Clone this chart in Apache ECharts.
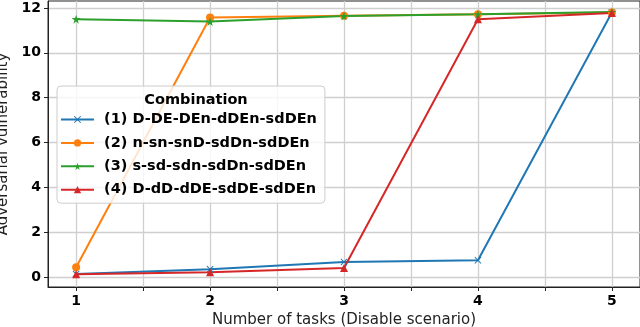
<!DOCTYPE html>
<html>
<head>
<meta charset="utf-8">
<script src="https://cdn.jsdelivr.net/npm/echarts@6/dist/echarts.min.js"></script>
<style>
  html, body { margin: 0; padding: 0; background: #fff; }
  #chart { width: 640px; height: 327px; }
</style>
</head>
<body>
<div id="chart"></div>
<script>
// number of tasks on the x axis
const tasks = [1, 2, 3, 4, 5];

// adversarial vulnerability per combination
const combo1 = [0.13, 0.34, 0.67, 0.74, 11.8];
const combo2 = [0.43, 11.57, 11.65, 11.72, 11.8];
const combo3 = [11.5, 11.39, 11.64, 11.72, 11.82];
const combo4 = [0.12, 0.21, 0.4, 11.5, 11.78];

const names = [
    '(1) D-DE-DEn-dDEn-sdDEn',
    '(2) n-sn-snD-sdDn-sdDEn',
    '(3) s-sd-sdn-sdDn-sdDEn',
    '(4) D-dD-dDE-sdDE-sdDEn',
];
const colors = ['#1f77b4', '#ff7f0e', '#2ca02c', '#d62728'];

// tick positions
const xLabels = [1, 2, 3, 4, 5];
const xTicks = [1, 1.5, 2, 2.5, 3, 3.5, 4, 4.5, 5];
const yTicks = [0, 2, 4, 6, 8, 10, 12];

// matplotlib-ish marker shapes
const crossPath = 'path://M0,1L1,0L5,4L9,0L10,1L6,5L10,9L9,10L5,6L1,10L0,9L4,5Z';
const starPath = 'path://M50,0L61,35L98,35L68,57L79,91L50,70L21,91L32,57L2,35L39,35Z';
const symbols = [crossPath, 'circle', starPath, 'triangle'];
const symbolSizes = [7, 8, 9, 8];

const FONT = 'DejaVu Sans';

const chart = echarts.init(document.getElementById('chart'));

function pairs(ys) {
    return tasks.map((t, i) => [t, ys[i]]);
}

const allData = [combo1, combo2, combo3, combo4];

const series = allData.map((d, i) => ({
    name: names[i],
    type: 'line',
    data: pairs(d),
    symbol: symbols[i],
    symbolSize: symbolSizes[i],
    showSymbol: true,
    lineStyle: { color: colors[i], width: 2 },
    itemStyle: { color: colors[i] },
    emphasis: { disabled: true },
    animation: false,
}));

const option = {
    animation: false,
    grid: {
        left: 48, right: 0, top: 1, bottom: 40,
        containLabel: false,
        outerBoundsMode: 'none',
        show: true, borderColor: '#222', borderWidth: 1,
    },
    title: {
        text: 'Combination',
        left: 191, top: 88,
        textAlign: 'center',
        textStyle: { fontFamily: FONT, fontWeight: 'bold', fontSize: 14.5, color: '#000' },
    },
    legend: {
        orient: 'vertical',
        left: 57, top: 86,
        padding: [26, 8, 6, 3],
        itemWidth: 33,
        itemHeight: 9,
        itemGap: 8.4,
        backgroundColor: 'rgba(255,255,255,0.8)',
        borderColor: '#cccccc',
        borderWidth: 1,
        borderRadius: 4,
        textStyle: { fontFamily: FONT, fontWeight: 'bold', fontSize: 14.5, color: '#000', padding: [0, 0, 0, 5] },
        data: names,
    },
    xAxis: {
        type: 'value',
        min: 0.79, max: 5.21,
        name: 'Number of tasks (Disable scenario)',
        nameLocation: 'middle',
        nameGap: 23,
        nameTextStyle: { fontFamily: FONT, fontSize: 15, color: '#222' },
        axisLine: { show: true, onZero: false, lineStyle: { color: '#222', width: 1 } },
        axisTick: { show: true, length: 4, customValues: xTicks, lineStyle: { color: '#222' } },
        axisLabel: {
            customValues: xLabels,
            margin: 7,
            fontFamily: FONT, fontWeight: 'bold', fontSize: 14, color: '#000',
        },
        splitLine: { show: true, lineStyle: { color: '#cfcfcf', width: 1.3 } },
    },
    yAxis: {
        type: 'value',
        min: -0.45, max: 12.31,
        name: 'Adversarial vulnerability',
        nameLocation: 'middle',
        nameGap: 31,
        nameTextStyle: { fontFamily: FONT, fontSize: 15, color: '#222' },
        axisLine: { show: true, onZero: false, lineStyle: { color: '#222', width: 1 } },
        axisTick: { show: true, length: 4, customValues: yTicks, lineStyle: { color: '#222' } },
        axisLabel: {
            customValues: yTicks,
            margin: 7,
            fontFamily: FONT, fontWeight: 'bold', fontSize: 14, color: '#000',
        },
        splitLine: { show: true, lineStyle: { color: '#cfcfcf', width: 1.3 } },
    },
    series: series,
};

chart.setOption(option);
</script>
</body>
</html>
